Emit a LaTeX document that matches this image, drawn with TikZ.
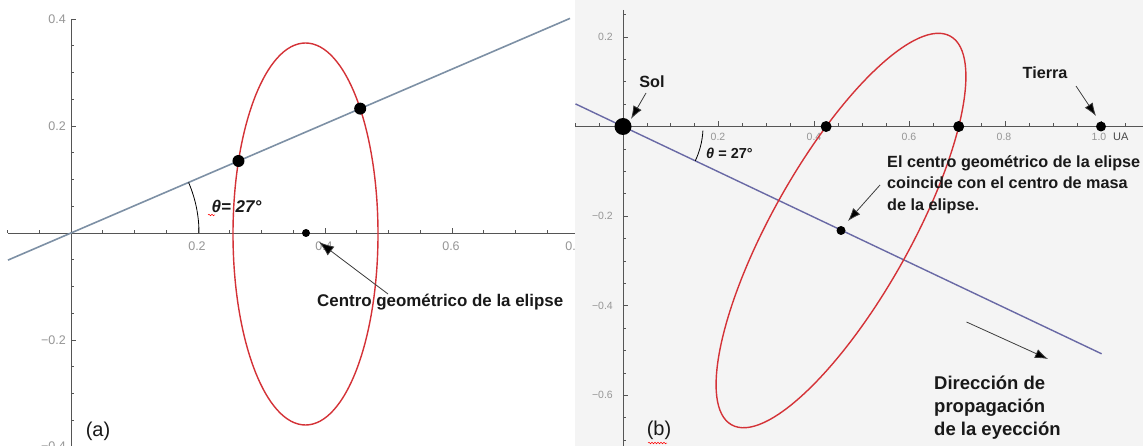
\documentclass[tikz,border=0pt]{standalone}
\usepackage{fontspec}
\setmainfont{Liberation Sans}
\usetikzlibrary{arrows.meta,intersections,decorations.pathmorphing}
\definecolor{ellred}{RGB}{212,50,55}
\definecolor{lineA}{RGB}{125,144,165}
\definecolor{lineB}{RGB}{105,105,165}
\definecolor{axisc}{RGB}{85,85,85}
\definecolor{tickc}{RGB}{150,150,150}
\definecolor{bgB}{RGB}{244,244,244}
\definecolor{txt}{RGB}{25,25,25}
\begin{document}
\begin{tikzpicture}[x=1pt,y=-1pt,
  axisline/.style={draw=axisc,line width=0.9pt},
  tickmark/.style={draw=axisc,line width=0.7pt},
  ticklab/.style={text=tickc,font=\fontsize{12.5}{14}\selectfont,inner sep=0pt},
  ticklabB/.style={text=tickc,font=\fontsize{10.5}{12}\selectfont,inner sep=0pt},
  ellipsecurve/.style={draw=ellred,line width=1.4pt},
  dirA/.style={draw=lineA,line width=1.6pt},
  dirB/.style={draw=lineB,line width=1.4pt},
  callout/.style={draw=txt!85,line width=0.8pt,-{Latex[length=15pt,width=11pt,fill=black]}},
  calloutB/.style={draw=txt!85,line width=0.8pt,-{Latex[length=13pt,width=9.5pt,fill=black]}},
  labeltext/.style={text=txt,font=\fontsize{16.2}{21.5}\selectfont\bfseries,inner sep=0pt},
  bigtext/.style={text=txt,font=\fontsize{18.5}{23}\selectfont\bfseries,inner sep=0pt},
  paneltag/.style={text=txt,font=\fontsize{20}{20}\selectfont,inner sep=0pt},
  anglearc/.style={draw=black,line width=0.8pt},
  spell/.style={draw=red,line width=0.5pt,decorate,decoration={snake,amplitude=0.8pt,segment length=3pt}}
]
\useasboundingbox (0,0) rectangle (1143,446);
% ================= panel (a) =================
\begin{scope}
\clip (0,0) rectangle (575,446);
\fill[white] (0,0) rectangle (575,446);
\draw[axisline] (8,233) -- (575,233);
\draw[axisline] (71,19) -- (71,446);
\foreach \k [evaluate=\k as \xx using 71+31.75*\k] in {-2,...,16}
  {\draw[tickmark] (\xx,233) -- (\xx,230);}
\foreach \k [evaluate=\k as \xx using 71+127*\k] in {1,...,4}
  {\draw[tickmark] (\xx,233) -- (\xx,228);}
\foreach \k [evaluate=\k as \yy using 233-26.75*\k] in {-8,...,8}
  {\draw[tickmark] (71,\yy) -- (74,\yy);}
\foreach \k [evaluate=\k as \yy using 233-107*\k] in {-2,...,2}
  {\draw[tickmark] (71,\yy) -- (76,\yy);}
\node[ticklab] (xa2) at (197,246) {0.2};
\node[ticklab] (xa4) at (324,246) {0.4};
\node[ticklab] (xa6) at (451,246) {0.6};
\node[ticklab] (xa8) at (574,246) {0.8};
\node[ticklab,anchor=east] (ya4) at (66,19) {0.4};
\node[ticklab,anchor=east] (ya2) at (66,126) {0.2};
\node[ticklab,anchor=east] (yam2) at (66,340) {−0.2};
\node[ticklab,anchor=east] (yam4) at (66,446) {−0.4};
% direction line
\coordinate (Oa) at (71,233);
\coordinate (LAa) at (8,260.1);
\coordinate (LAb) at (570,18.4);
\draw[dirA,name path=lineA] (LAa) -- (Oa) -- (LAb);
% angle
\draw[anglearc] (199,233) arc[start angle=0,end angle=-23.27,radius=128];
\node[text=txt,font=\fontsize{17}{17}\selectfont\bfseries\itshape,inner sep=0pt] (thA) at (236.5,206) {θ= 27°};
\draw[spell] (208,215) -- (215,215);
% ellipse
\coordinate (cA) at (305.5,234);
\draw[ellipsecurve,name path=ellA] (cA) ellipse [x radius=72.5,y radius=191];
\fill[name intersections={of=ellA and lineA,name=ia}] (ia-1) circle (6) (ia-2) circle (6);
\coordinate (gcA) at (306,233);
\fill (gcA) circle (4);
% callout
\node[labeltext,font=\fontsize{16.9}{20}\selectfont\bfseries,anchor=west] (centroA) at (317,302) {Centro geométrico de la elipse};
\coordinate (cAstart) at (388,294);
\coordinate (cAtip) at (319,242);
\draw[callout] (cAstart) -- (cAtip);
\node[paneltag] (tagA) at (98,431) {(a)};
\end{scope}
% ================= panel (b) =================
\fill[bgB] (575,0) rectangle (1143,446);
\draw[axisline] (575,126.5) -- (1143,126.5);
\draw[axisline] (623,10) -- (623,446);
\foreach \k [evaluate=\k as \xx using 623+23.9*\k] in {-2,...,21}
  {\draw[tickmark] (\xx,126.5) -- (\xx,123.5);}
\foreach \k [evaluate=\k as \xx using 623+95.6*\k] in {1,...,5}
  {\draw[tickmark] (\xx,126.5) -- (\xx,121.5);}
\foreach \k [evaluate=\k as \yy using 126.5-22.4*\k] in {-14,...,5}
  {\draw[tickmark] (623,\yy) -- (626,\yy);}
\foreach \k [evaluate=\k as \yy using 126.5-89.6*\k] in {-3,...,1}
  {\draw[tickmark] (623,\yy) -- (628,\yy);}
\node[ticklabB] (xb2) at (718,137) {0.2};
\node[ticklabB] (xb4) at (814,137) {0.4};
\node[ticklabB] (xb6) at (909,137) {0.6};
\node[ticklabB] (xb8) at (1004,137) {0.8};
\node[ticklabB] (xb10) at (1099,137) {1.0};
\node[text=txt!80,font=\fontsize{11}{12}\selectfont,inner sep=0pt,anchor=west] (ua) at (1113,137) {UA};
\node[ticklabB,anchor=east] (yb2) at (613,37) {0.2};
\node[ticklabB,anchor=east] (ybm2) at (613,216) {−0.2};
\node[ticklabB,anchor=east] (ybm4) at (613,306) {−0.4};
\node[ticklabB,anchor=east] (ybm6) at (613,395) {−0.6};
% direction line
\coordinate (Sol) at (623,126.5);
\coordinate (LBa) at (575.5,103.9);
\coordinate (LBb) at (1101.6,353.8);
\draw[dirB] (LBa) -- (Sol) -- (LBb);
% angle
\draw[anglearc] (702.9,130.7) arc[start angle=3,end angle=25.4,radius=80];
\node[text=txt,font=\fontsize{14.5}{15}\selectfont\bfseries,inner sep=0pt] (thB) at (729.5,153) {{\itshape θ} = 27°};
% ellipse
\coordinate (cB) at (841,230.5);
\draw[ellipsecurve,name path=ellB,rotate around={60.6:(cB)}] (cB) ellipse [x radius=223,y radius=69];
\path[name path=axB] (575,126.5) -- (1143,126.5);
\fill[name intersections={of=ellB and axB,name=ib}] (ib-1) circle (5.5) (ib-2) circle (5.5);
\fill (Sol) circle (8.5);
\coordinate (Earth) at (1101,126.5);
\fill (Earth) circle (5);
\fill (cB) circle (4.5);
% labels and callouts
\node[labeltext] (solL) at (652,82) {Sol};
\coordinate (solS) at (646,93);
\coordinate (solT) at (631,119);
\draw[calloutB] (solS) -- (solT);
\node[labeltext] (tierraL) at (1045,73) {Tierra};
\coordinate (tS) at (1076,86);
\coordinate (tT) at (1096,116);
\draw[calloutB] (tS) -- (tT);
\node[labeltext,anchor=north west,align=left] (centroB) at (887,155) {El centro geométrico de la elipse\\coincide con el centro de masa\\de la elipse.};
\coordinate (cBs) at (880,185);
\coordinate (cBt) at (848,221);
\draw[calloutB] (cBs) -- (cBt);
\coordinate (dS) at (966.5,322);
\coordinate (dT) at (1048,359);
\draw[calloutB] (dS) -- (dT);
\node[bigtext,anchor=north west,align=left] (dirL) at (934,376) {Dirección de\\propagación\\de la eyección};
\node[paneltag] (tagB) at (659,430) {(b)};
\draw[spell] (648,443) -- (667,443);
\end{tikzpicture}
\end{document}
